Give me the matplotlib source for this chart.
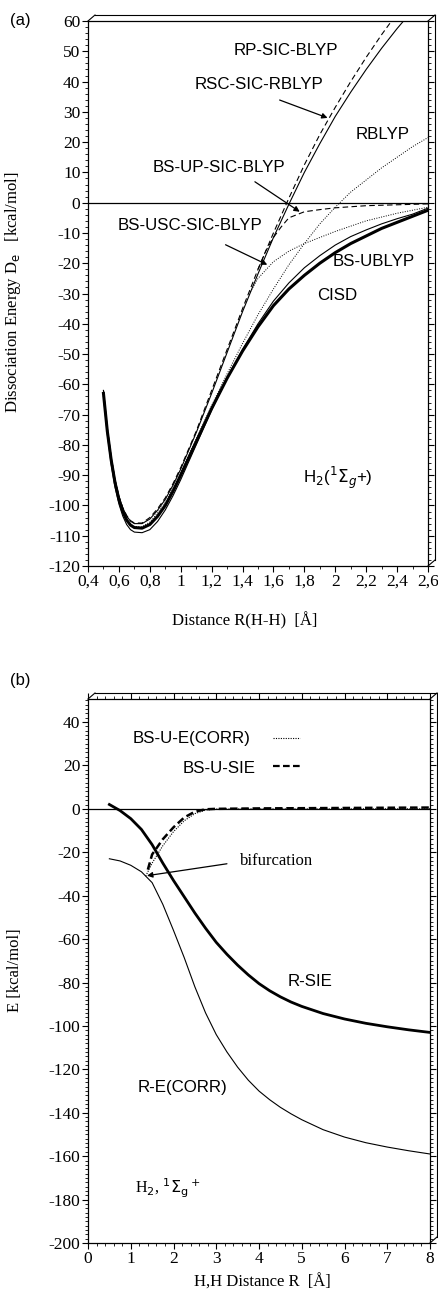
import matplotlib
matplotlib.use("Agg")
import matplotlib.pyplot as plt
from matplotlib.lines import Line2D
from matplotlib.ticker import FixedLocator, MultipleLocator

# -----------------------------
# DATA  panel (a): H2 dissociation curves
# -----------------------------
r_a = [0.5, 0.525, 0.55, 0.575, 0.6, 0.625, 0.65, 0.675, 0.7, 0.75, 0.8, 0.85, 0.9, 0.95,
       1.0, 1.1, 1.2, 1.3, 1.4, 1.5, 1.6, 1.7, 1.8, 1.9, 2.0, 2.1, 2.2, 2.3, 2.4, 2.5, 2.6]
cisd = [-63, -75.5, -85, -92.5, -98, -102, -104.8, -106.5, -107.3, -107.5, -106.3, -103.6,
        -100, -95.3, -90, -79, -68, -58, -49, -41, -34, -28.5, -24, -20, -16.5, -13.5,
        -11, -8.5, -6.5, -4.5, -2.5]
bs_ublyp = [-64, -76.5, -86.5, -94, -99.5, -103.5, -106.3, -108, -108.8, -109, -108, -105.3,
            -101.5, -96.8, -91.5, -80, -68.5, -58, -48.5, -40, -32.5, -26.5, -21.5, -17.5,
            -14, -11.2, -9, -7, -5.3, -3.8, -1.8]
rp_sic = [-62, -74.5, -84, -91.5, -97, -100.8, -103.5, -105.2, -106, -106, -104.5, -101.6,
          -98, -93.3, -88, -76, -63, -49.5, -36, -23.5, -11.5, -0.5, 10, 19.5, 28.5, 36.5,
          44, 51, 57.5, 63.5, 69]
rsc_sic = [-62, -74.5, -84, -91.5, -97, -100.7, -103.3, -105, -105.8, -105.8, -104, -101.1,
           -97.5, -92.8, -87.5, -75.5, -62, -48.5, -35, -22, -10, 1.5, 12.5, 22.5, 31.5, 40,
           48, 55.5, 62.5, 69, 75]
rblyp = [-63, -75.5, -85, -92.5, -98, -102, -104.5, -106.2, -107, -107, -105.5, -102.5,
         -99, -94.2, -89, -78, -67, -56.5, -46.5, -37, -28.5, -20.5, -13.5, -7, -1.5, 3.5,
         7.5, 11.5, 15, 18.5, 21.5]
r_up = [1.5, 1.55, 1.6, 1.65, 1.7, 1.8, 1.9, 2.0, 2.2, 2.4, 2.6]
bs_up_sic = [-22, -16, -11.5, -8, -5, -3, -2.3, -1.7, -1.0, -0.7, -0.4]
r_usc = [1.45, 1.5, 1.6, 1.7, 1.8, 1.9, 2.0, 2.2, 2.4, 2.6]
bs_usc_sic = [-29.5, -25, -19.5, -16, -13.5, -11.5, -9.5, -6, -3.5, -1.5]

xt_a = [0.4, 0.6, 0.8, 1.0, 1.2, 1.4, 1.6, 1.8, 2.0, 2.2, 2.4, 2.6]
xt_a_lab = ["0,4", "0,6", "0,8", "1", "1,2", "1,4", "1,6", "1,8", "2", "2,2", "2,4", "2,6"]
yt_a = [60, 50, 40, 30, 20, 10, 0, -10, -20, -30, -40, -50, -60, -70, -80, -90, -100, -110, -120]

# -----------------------------
# DATA  panel (b): SIE / correlation energy
# -----------------------------
r_b = [0.5, 0.75, 1.0, 1.25, 1.5, 1.75, 2.0, 2.25, 2.5, 2.75, 3.0, 3.25, 3.5, 3.75, 4.0,
       4.25, 4.5, 4.75, 5.0, 5.5, 6.0, 6.5, 7.0, 7.5, 8.0]
r_sie = [2, -0.8, -4.5, -9.5, -16.5, -25, -33, -40.5, -48, -55, -61.5, -67, -72, -76.5,
         -80.5, -83.8, -86.6, -89, -91, -94.3, -96.8, -98.8, -100.4, -101.8, -103]
r_ecorr = [-23, -24, -26, -29, -34, -44, -56, -68.5, -82, -94, -104, -112, -119, -125, -130,
           -134, -137.5, -140.5, -143.2, -147.8, -151.2, -153.8, -155.8, -157.5, -159]
r_bs_sie = [1.4, 1.5, 1.75, 2.0, 2.25, 2.5, 2.75, 3.0, 3.5, 4.0, 5.0, 6.0, 7.0, 8.0]
bs_u_sie = [-28, -21, -14, -8.5, -4, -1.3, -0.2, 0, 0.1, 0.2, 0.3, 0.4, 0.5, 0.6]
r_bs_ec = [1.35, 1.5, 1.75, 2.0, 2.25, 2.5, 2.75, 3.0, 3.5, 4.0, 5.0, 6.0, 7.0, 8.0]
bs_u_ecorr = [-31, -25, -17, -10.5, -5.5, -2.2, -0.6, -0.1, 0, 0, 0, 0, 0, 0]

xt_b = [0, 1, 2, 3, 4, 5, 6, 7, 8]
yt_b = [40, 20, 0, -20, -40, -60, -80, -100, -120, -140, -160, -180, -200]

SERIF = "Liberation Serif"
SANS = "Liberation Sans"
W, H = 438, 1293

fig = plt.figure(figsize=(W / 100, H / 100), dpi=100)


def px_axes(left, top, right, bottom):
    return fig.add_axes([left / W, 1 - bottom / H, (right - left) / W, (bottom - top) / H])


def box3d(ax, dx=7, dy=6):
    # back edges of the pseudo-3D frame
    bb = ax.get_position()
    L, R, B, T = bb.x0, bb.x1, bb.y0, bb.y1
    ox, oy = dx / W, dy / H
    segs = [((L, T), (L + ox, T + oy)),
            ((L + ox, T + oy), (R + ox, T + oy)),
            ((R, T), (R + ox, T + oy)),
            ((R + ox, T + oy), (R + ox, B + oy)),
            ((R, B), (R + ox, B + oy))]
    for p, q in segs:
        fig.add_artist(Line2D([p[0], q[0]], [p[1], q[1]], transform=fig.transFigure,
                              color="k", lw=0.8))


def style(ax, top_ticks):
    for s in ax.spines.values():
        s.set_linewidth(0.9)
    ax.tick_params(which="both", direction="out", left=True, right=True, bottom=True,
                   top=top_ticks, labelright=False, labeltop=False)
    ax.tick_params(which="major", length=4, width=0.8, labelsize=12.5, pad=1.5)
    ax.tick_params(which="minor", length=2, width=0.6)
    for lab in ax.get_xticklabels() + ax.get_yticklabels():
        lab.set_family(SERIF)


# -----------------------------
# PANEL (a)
# -----------------------------
ax1 = px_axes(88, 21, 428, 566)
ax1.axhline(0, color="k", lw=0.9)
ax1.plot(r_a, rblyp, color="k", lw=0.7, ls=(0, (1, 1.5)))
ax1.plot(r_usc, bs_usc_sic, color="k", lw=0.7, ls=(0, (1, 1.5)))
ax1.plot(r_a, rp_sic, color="k", lw=0.8)
ax1.plot(r_a, rsc_sic, color="k", lw=0.8, ls=(0, (5, 3)))
ax1.plot(r_up, bs_up_sic, color="k", lw=0.8, ls=(0, (5, 3)))
ax1.plot(r_a, bs_ublyp, color="k", lw=0.8)
ax1.plot(r_a, cisd, color="k", lw=2.2)
ax1.set_xlim(0.4, 2.6)
ax1.set_ylim(-120, 60)
ax1.xaxis.set_major_locator(FixedLocator(xt_a))
ax1.set_xticklabels(xt_a_lab)
ax1.xaxis.set_minor_locator(MultipleLocator(0.1))
ax1.yaxis.set_major_locator(FixedLocator(yt_a))
ax1.set_yticklabels([str(v) for v in yt_a])
ax1.yaxis.set_minor_locator(MultipleLocator(2))
style(ax1, top_ticks=False)
box3d(ax1)

lab_kw = dict(family=SANS, fontsize=12.2, ha="left", va="center")
ax1.text(1.34, 50.4, "RP-SIC-BLYP", **lab_kw)
ax1.text(1.09, 38.9, "RSC-SIC-RBLYP", **lab_kw)
ax1.text(2.13, 22.4, "RBLYP", **lab_kw)
ax1.text(0.82, 11.5, "BS-UP-SIC-BLYP", **lab_kw)
ax1.text(0.59, -7.7, "BS-USC-SIC-BLYP", **lab_kw)
ax1.text(1.98, -19.5, "BS-UBLYP", **lab_kw)
ax1.text(1.88, -30.8, "CISD", **lab_kw)
ax1.text(1.79, -91, r"H$_2$($^1\Sigma_g$+)", **lab_kw)

arr = dict(arrowstyle="-|>", color="k", lw=0.9, mutation_scale=8, shrinkA=0, shrinkB=0)
ax1.annotate("", xy=(1.95, 28), xytext=(1.64, 33.9), arrowprops=arr)
ax1.annotate("", xy=(1.77, -3), xytext=(1.48, 6.9), arrowprops=arr)
ax1.annotate("", xy=(1.56, -20.5), xytext=(1.29, -13.9), arrowprops=arr)

ax1.set_xlabel("Distance R(H-H)  [Å]", family=SERIF, fontsize=12)
ax1.xaxis.set_label_coords(0.462, -0.084)
ax1.set_ylabel(r"Dissociation Energy D$_\mathrm{e}$   [kcal/mol]", family=SERIF, fontsize=12)
ax1.yaxis.set_label_coords(-0.19, 0.503)
fig.text(10 / W, 1 - 20 / H, "(a)", family=SANS, fontsize=12, va="center")

# -----------------------------
# PANEL (b)
# -----------------------------
ax2 = px_axes(88, 699, 430, 1243)
ax2.axhline(0, color="k", lw=0.9)
ax2.plot(r_b, r_ecorr, color="k", lw=0.8)
ax2.plot(r_b, r_sie, color="k", lw=2.0)
ax2.plot(r_bs_ec, bs_u_ecorr, color="k", lw=0.8, ls=(0, (1, 1.2)))
ax2.plot(r_bs_sie, bs_u_sie, color="k", lw=1.8, ls=(0, (3, 1.5)))
ax2.set_xlim(0, 8)
ax2.set_ylim(-200, 50.6)
ax2.xaxis.set_major_locator(FixedLocator(xt_b))
ax2.set_xticklabels([str(v) for v in xt_b])
ax2.xaxis.set_minor_locator(MultipleLocator(0.2))
ax2.yaxis.set_major_locator(FixedLocator(yt_b))
ax2.set_yticklabels([str(v) for v in yt_b])
ax2.yaxis.set_minor_locator(MultipleLocator(2))
style(ax2, top_ticks=True)
box3d(ax2)

ax2.text(1.05, 32.6, "BS-U-E(CORR)", **lab_kw)
ax2.plot([4.33, 4.96], [32.6, 32.6], color="k", lw=0.8, ls=(0, (1, 1.2)))
ax2.text(2.22, 18.4, "BS-U-SIE", **lab_kw)
ax2.plot([4.33, 4.96], [19.8, 19.8], color="k", lw=1.6, ls=(0, (3, 1.5)))
ax2.text(4.68, -79.5, "R-SIE", **lab_kw)
ax2.text(1.17, -128.3, "R-E(CORR)", **lab_kw)
ax2.text(3.56, -23.9, "bifurcation", family=SERIF, fontsize=12, ha="left", va="center")
ax2.annotate("", xy=(1.38, -30.8), xytext=(3.25, -25.3), arrowprops=arr)
ax2.text(1.1, -175, r"H$_2$, $^1\Sigma_\mathrm{g}$$^+$", family=SERIF, fontsize=11.5,
         ha="left", va="center")

ax2.set_xlabel("H,H Distance R  [Å]", family=SERIF, fontsize=12)
ax2.xaxis.set_label_coords(0.51, -0.057)
ax2.set_ylabel("E [kcal/mol]", family=SERIF, fontsize=12)
ax2.yaxis.set_label_coords(-0.19, 0.502)
fig.text(10 / W, 1 - 680 / H, "(b)", family=SANS, fontsize=12, va="center")

fig.savefig("out.png", dpi=100)
